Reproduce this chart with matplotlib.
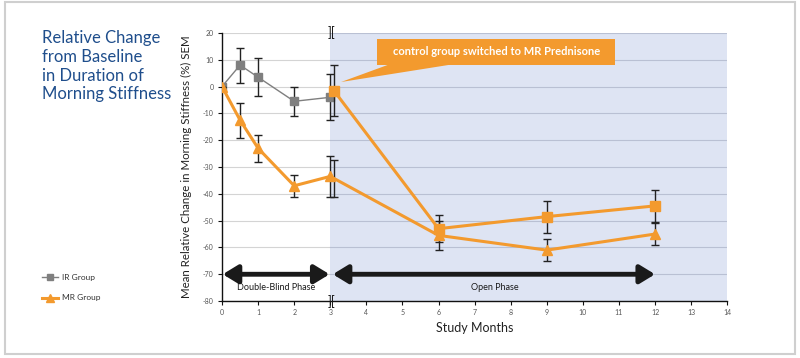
import matplotlib
matplotlib.use("Agg")
import matplotlib.pyplot as plt
from matplotlib.patches import Rectangle, Polygon
import numpy as np

# ---------------- data ----------------
db_months = [0, 0.5, 1, 2, 3]
ir_mean = [0, 8, 3.5, -5.5, -4]
ir_sem = [0, 6.5, 7, 5.5, 8.5]

mr_months = [0, 0.5, 1, 2, 3, 6, 9, 12]
mr_mean = [0, -12.5, -23, -37, -33.5, -55.5, -61, -55]
mr_sem = [0, 6.5, 5, 4, 7.5, 5.5, 4, 4]

sw_months = [3.1, 6, 9, 12]
sw_mean = [-1.5, -53, -48.5, -44.5]
sw_sem = [9.5, 5, 6, 6]

dup_months = [3.1]
dup_mean = [-34.3]
dup_sem = [7]

x_ticks = list(range(0, 15))
y_ticks = list(range(-80, 30, 10))

title_text = "Relative Change\nfrom Baseline\nin Duration of\nMorning Stiffness"
callout_text = "control group switched to MR Prednisone"

ORANGE = "#F39A2E"
GRAY = "#7f7f7f"
BLUE = "#1F4E8C"
SHADE = "#DEE4F3"

plt.rcParams['font.family'] = ['Lato', 'DejaVu Sans']

fig = plt.figure(figsize=(8.0, 3.58), dpi=100)
# frame
fig.patches.append(Rectangle((0.006, 0.01), 0.988, 0.985, transform=fig.transFigure,
                             fill=False, edgecolor="#cfcfcf", linewidth=1.5))

ax = fig.add_axes([0.2775, 0.159, 0.6315, 0.749])
ax.set_xlim(0, 14)
ax.set_ylim(-80, 20)

# shaded open-phase region
ax.axvspan(3, 14, color=SHADE, zorder=0, lw=0)

# grid lines
for y in y_ticks:
    ax.plot([0, 3], [y, y], color="#d4d4d4", lw=0.8, zorder=0.5)
    ax.plot([3, 14], [y, y], color="#b9c0d3", lw=0.8, zorder=0.5)

# IR group
ax.errorbar(db_months, ir_mean, yerr=ir_sem, color=GRAY, lw=1.0, marker="s",
            ms=6, mfc=GRAY, mec=GRAY, ecolor="#222222", elinewidth=1.0,
            capsize=3, capthick=1.0, zorder=3)

# MR group
ax.errorbar(mr_months, mr_mean, yerr=mr_sem, color=ORANGE, lw=2.2, marker="^",
            ms=7, mfc=ORANGE, mec=ORANGE, ecolor="#222222", elinewidth=1.0,
            capsize=3, capthick=1.0, zorder=4)
ax.errorbar(dup_months, dup_mean, yerr=dup_sem, fmt="none", ecolor="#222222",
            elinewidth=1.0, capsize=3, capthick=1.0, zorder=4)

# switched group
ax.errorbar(sw_months, sw_mean, yerr=sw_sem, color=ORANGE, lw=2.2, marker="s",
            ms=7.5, mfc=ORANGE, mec=ORANGE, ecolor="#222222", elinewidth=1.0,
            capsize=3, capthick=1.0, zorder=4)

# phase arrows
ax.annotate("", xy=(0.02, -70), xytext=(2.98, -70),
            arrowprops=dict(arrowstyle="<|-|>,head_length=0.9,head_width=0.55",
                            color="#1a1a1a", lw=3.5, shrinkA=0, shrinkB=0), zorder=5)
ax.annotate("", xy=(3.07, -70), xytext=(12.0, -70),
            arrowprops=dict(arrowstyle="<|-|>,head_length=0.9,head_width=0.55",
                            color="#1a1a1a", lw=3.5, shrinkA=0, shrinkB=0), zorder=5)
ax.text(1.5, -74.8, "Double-Blind Phase", ha="center", va="center", fontsize=6.5,
        color="#1a1a1a")
ax.text(7.55, -74.8, "Open Phase", ha="center", va="center", fontsize=6.5,
        color="#1a1a1a")

# axis break marks at x=3
for yb in (20, -80):
    ax.text(3.03, yb, "][", ha="center", va="center", fontsize=9, color="#1a1a1a",
            clip_on=False, zorder=6)

# callout box
ax.add_patch(Polygon([[3.3, 1.7], [4.6, 8.1], [6.3, 8.1]], closed=True, fc=ORANGE,
                     ec="none", zorder=5))
ax.add_patch(Rectangle((4.3, 8.1), 6.6, 9.7, fc=ORANGE, ec="none", zorder=5))
ax.text(7.6, 13.0, callout_text, ha="center", va="center", fontsize=8,
        color="white", fontweight="bold", zorder=6)

# axes styling
ax.set_xticks(x_ticks)
ax.set_yticks(y_ticks)
ax.set_xticklabels([str(t) for t in x_ticks], fontsize=5, color="#555555")
ax.set_yticklabels([str(t) for t in y_ticks], fontsize=5, color="#555555")
ax.tick_params(axis="both", length=3, width=0.8, color="#111111", pad=3)
for s in ("top", "right"):
    ax.spines[s].set_visible(False)
ax.spines["left"].set_color("#111111")
ax.spines["bottom"].set_color("#111111")
ax.spines["left"].set_linewidth(1.0)
ax.spines["bottom"].set_linewidth(1.0)
ax.set_xlabel("Study Months", fontsize=9, labelpad=4, color="#222222")
ax.set_ylabel("Mean Relative Change in Morning Stiffness (%) SEM", fontsize=8.3,
              labelpad=8, color="#222222")

# title text
fig.text(0.053, 0.915, title_text, ha="left", va="top", fontsize=12, color=BLUE,
         linespacing=1.2)

# legend (manual, in figure coords)
lx0, lx1 = 0.052, 0.072
fig.lines.append(plt.Line2D([lx0, lx1], [0.225, 0.225], transform=fig.transFigure,
                            color=GRAY, lw=1.0))
fig.lines.append(plt.Line2D([(lx0 + lx1) / 2], [0.225], transform=fig.transFigure,
                            color=GRAY, marker="s", ms=4.5, ls="none"))
fig.lines.append(plt.Line2D([lx0, lx1], [0.168, 0.168], transform=fig.transFigure,
                            color=ORANGE, lw=2.2))
fig.lines.append(plt.Line2D([(lx0 + lx1) / 2], [0.168], transform=fig.transFigure,
                            color=ORANGE, marker="^", ms=5.5, ls="none"))
fig.text(0.077, 0.225, "IR Group", fontsize=6, va="center", color="#333333")
fig.text(0.077, 0.168, "MR Group", fontsize=6, va="center", color="#333333")

fig.savefig("out.png", dpi=100)
